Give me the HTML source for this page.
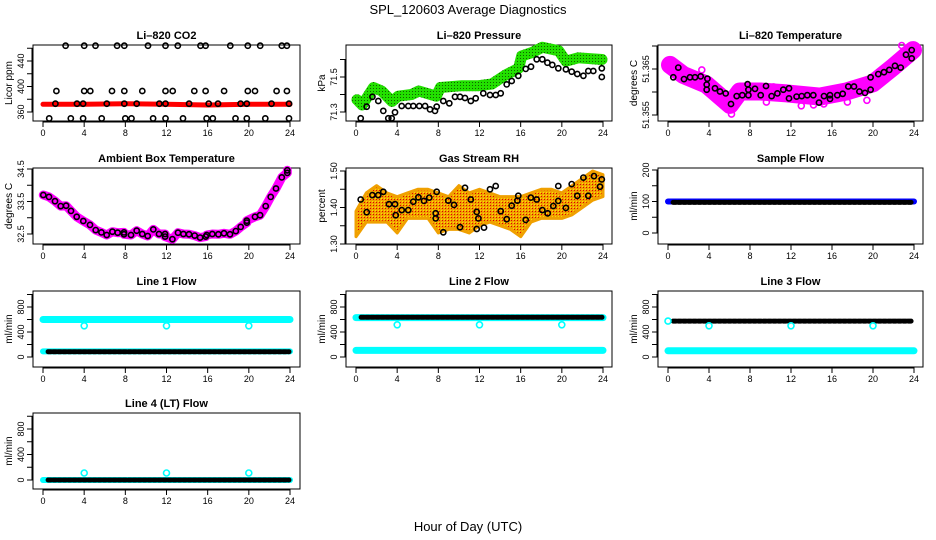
<!DOCTYPE html>
<html><head><meta charset="utf-8">
<style>
html,body{margin:0;padding:0;background:#fff;}
svg{display:block;font-family:"Liberation Sans",Arial,sans-serif;}
</style></head>
<body>
<svg id="chart" width="936" height="540" viewBox="0 0 936 540" xmlns="http://www.w3.org/2000/svg">
<defs>
<pattern id="rhpat" width="3" height="3" patternUnits="userSpaceOnUse">
<rect width="3" height="3" fill="#f0a000"/><rect x="1" y="1" width="1" height="1" fill="#e00000"/><rect x="0" y="0" width="1" height="1" fill="#ffe000"/>
</pattern>
<pattern id="grpat" width="3" height="3" patternUnits="userSpaceOnUse">
<rect width="3" height="3" fill="#22e000"/><rect x="1" y="1" width="1" height="1" fill="#116000"/>
</pattern>
</defs>
<text x="468" y="14" text-anchor="middle" font-size="13">SPL_120603  Average Diagnostics</text>
<text x="468" y="531" text-anchor="middle" font-size="13">Hour of Day (UTC)</text>
</svg>
<script>
// ---- data ----
const xTicks = [0,4,8,12,16,20,24];

const co2Hours = [2.2,4.0,5.1,7.2,7.9,10.2,11.9,13.1,15.3,15.8,18.2,19.9,21.1,23.2,23.7,
  1.3,4.0,4.6,6.7,7.9,9.65,11.9,12.6,14.7,15.8,17.6,19.9,20.6,22.7,23.7,
  0.6,2.7,3.9,5.7,8.0,8.6,10.7,11.9,13.6,15.9,16.5,18.7,19.8,21.6,23.9,
  1.2,3.3,3.9,6.2,7.9,9.1,11.3,11.9,14.2,16.1,17.0,19.2,19.8,22.2,23.9];
const co2Vals = [464,464,464,464,464,464,464,464,464,464,464,464,464,464,464,
  393,393,393,393,393,393,393,393,393,393,393,393,393,393,393,
  350,350,350,350,350,350,350,350,350,350,350,350,350,350,350,
  373,373,373,373,373,373,373,373,373,373,373,373,373,373,373];
const co2BandHours = [0,4,8,12,16,20,24];
const co2BandVals = [372,372,373,372,371,372,372];

const presBandHours = [0.1,0.6,1.7,2.5,3.5,4.1,5.4,6.1,7.8,8.2,10.3,11.9,13.2,14.5,15.8,16.1,17.1,18.1,19.7,20.4,21.6,23.9];
const presBandVals = [71.37,71.34,71.44,71.42,71.36,71.39,71.40,71.42,71.39,71.44,71.45,71.45,71.46,71.51,71.55,71.62,71.64,71.67,71.65,71.59,71.61,71.60];
const presHours = [0.46,1.04,1.59,2.17,2.65,3.14,3.47,3.79,4.44,5.08,5.57,6.15,6.71,7.19,7.68,7.84,8.48,9.07,9.62,10.11,10.59,11.15,11.63,12.37,13.02,13.57,14.06,14.64,15.13,15.77,16.49,17.0,17.56,18.1,18.6,19.07,19.66,20.4,20.96,21.5,22.1,22.57,23.06,23.88,23.88];
const presVals = [71.264,71.33,71.387,71.363,71.306,71.264,71.264,71.298,71.334,71.334,71.334,71.334,71.334,71.315,71.306,71.33,71.363,71.35,71.387,71.387,71.38,71.363,71.378,71.407,71.397,71.397,71.407,71.458,71.477,71.507,71.546,71.559,71.601,71.601,71.582,71.569,71.55,71.544,71.53,71.517,71.507,71.534,71.534,71.55,71.5];

const tempBandHours = [0.2,1.5,3.75,5.1,6.05,7.0,9.0,11.6,14.8,17.4,20.0,22.0,23.9];
const tempBandVals = [51.3659,51.3637,51.3616,51.3590,51.3572,51.3601,51.3601,51.3597,51.3590,51.3601,51.3619,51.3655,51.3691];
const tempHours = [1.0,0.52,1.56,2.15,2.63,3.19,3.84,3.78,3.78,4.59,5.07,5.63,6.15,6.7,7.25,7.77,7.84,7.84,8.49,9.04,9.56,10.11,10.67,11.25,11.8,11.8,12.55,13.04,13.59,14.18,14.73,15.22,15.8,15.8,16.52,17.04,17.59,18.15,18.67,19.22,19.77,19.77,20.52,21.07,21.59,22.15,22.7,23.22,23.78,23.78];
const tempVals = [51.3653,51.3632,51.3628,51.3632,51.3632,51.3634,51.3629,51.3616,51.3605,51.3608,51.3601,51.3597,51.3574,51.3591,51.3593,51.3617,51.3605,51.3593,51.3607,51.3593,51.3613,51.3591,51.3597,51.3605,51.3608,51.3586,51.3590,51.3591,51.3593,51.3593,51.3577,51.3591,51.3593,51.3585,51.3593,51.3596,51.3612,51.3612,51.3601,51.3598,51.3632,51.3605,51.3639,51.3643,51.3648,51.3657,51.3653,51.3681,51.3691,51.3673];
const tempOutHours = [3.3,5.8,6.2,9.6,10.3,13.0,14.2,15.2,17.5,19.4,22.8];
const tempOutVals = [51.3648,51.3562,51.3552,51.3578,51.3611,51.3570,51.3572,51.3574,51.3578,51.3582,51.3701];

const ambHours = [0.03,0.58,1.17,1.72,2.24,2.72,3.27,3.92,4.57,5.12,5.67,6.19,6.74,7.26,7.87,7.87,8.55,9.1,9.65,10.17,10.72,11.27,11.86,11.86,12.57,13.12,13.64,14.19,14.74,15.26,15.81,15.91,16.45,17.04,17.59,18.17,18.73,19.21,19.8,19.8,20.6,21.09,21.64,22.12,22.64,23.2,23.74,23.74];
const ambVals = [33.70,33.64,33.51,33.36,33.37,33.21,33.03,32.90,32.78,32.62,32.55,32.47,32.57,32.54,32.55,32.49,32.47,32.60,32.50,32.44,32.64,32.50,32.50,32.42,32.34,32.54,32.50,32.49,32.45,32.39,32.42,32.47,32.50,32.49,32.52,32.49,32.59,32.72,32.85,32.91,33.03,33.08,33.36,33.64,33.90,34.24,34.38,34.46];

const rhEnvHours = [0,1,2,3,4,5,6,7,8,9,10,11,12,13,14,15,16,17,18,19,20,21,22,23,24];
const rhLow = [1.32,1.36,1.36,1.36,1.33,1.37,1.37,1.37,1.33,1.34,1.34,1.33,1.35,1.36,1.35,1.34,1.32,1.36,1.37,1.37,1.37,1.38,1.40,1.42,1.43];
const rhHigh = [1.39,1.44,1.46,1.44,1.43,1.44,1.45,1.45,1.44,1.43,1.46,1.44,1.45,1.44,1.43,1.43,1.43,1.44,1.45,1.45,1.44,1.46,1.48,1.50,1.49];
const rhHours = [0.46,1.04,1.59,2.17,2.65,3.21,3.79,3.86,4.44,5.08,5.57,6.06,6.61,7.12,7.84,7.74,7.74,8.48,8.97,9.52,10.11,10.59,11.15,11.73,11.73,11.89,12.44,13.02,13.57,14.06,14.64,15.13,15.68,15.77,16.49,16.98,17.56,18.1,18.63,19.17,19.66,19.66,20.4,20.96,21.5,22.1,22.57,23.13,23.71,23.88];
const rhVals = [1.422,1.387,1.434,1.434,1.443,1.409,1.409,1.379,1.393,1.393,1.416,1.428,1.418,1.427,1.443,1.384,1.370,1.332,1.419,1.407,1.346,1.454,1.422,1.388,1.341,1.370,1.345,1.450,1.459,1.390,1.368,1.405,1.419,1.432,1.366,1.427,1.422,1.393,1.384,1.404,1.459,1.418,1.399,1.464,1.432,1.482,1.432,1.486,1.457,1.477];

const flowHours = [0,1,2,3,4,5,6,7,8,9,10,11,12,13,14,15,16,17,18,19,20,21,22,23,24];
const blackHours = [0.5,1.5,2.5,3.5,4.5,5.5,6.5,7.5,8.5,9.5,10.5,11.5,12.5,13.5,14.5,15.5,16.5,17.5,18.5,19.5,20.5,21.5,22.5,23.5,23.9];
const sampleBlue = [100,100,100,100,100,100,100,100,100,100,100,100,100,100,100,100,100,100,100,100,100,100,100,100,100];
const sampleBlack = [97,97,97,97,97,97,97,97,97,97,97,97,97,97,97,97,97,97,97,97,97,97,97,97,97];
const line1CyanHigh = [600,600,600,600,600,600,600,600,600,600,600,600,600,600,600,600,600,600,600,600,600,600,600,600,600];
const line1CyanLow = [90,90,90,90,90,90,90,90,90,90,90,90,90,90,90,90,90,90,90,90,90,90,90,90,90];
const line1Black = [85,85,85,85,85,85,85,85,85,85,85,85,85,85,85,85,85,85,85,85,85,85,85,85,85];
const line2CyanHigh = [630,630,630,630,630,630,630,630,630,630,630,630,630,630,630,630,630,630,630,630,630,630,630,630,630];
const line2CyanLow = [105,105,105,105,105,105,105,105,105,105,105,105,105,105,105,105,105,105,105,105,105,105,105,105,105];
const line2Black = [635,635,635,635,635,635,635,635,635,635,635,635,635,635,635,635,635,635,635,635,635,635,635,635,635];
const line3CyanLow = [100,100,100,100,100,100,100,100,100,100,100,100,100,100,100,100,100,100,100,100,100,100,100,100,100];
const line3Black = [575,575,575,575,575,575,575,575,575,575,575,575,575,575,575,575,575,575,575,575,575,575,575,575,575];
const line4Cyan = [0,0,0,0,0,0,0,0,0,0,0,0,0,0,0,0,0,0,0,0,0,0,0,0,0];
const line4Black = [0,0,0,0,0,0,0,0,0,0,0,0,0,0,0,0,0,0,0,0,0,0,0,0,0];
const outHours = [4,12,20];
const line1Out = [500,500,500];
const line2Out = [515,515,515];
const line3Out = [500,500,500];
const line4Out = [110,110,110];

// ---- layout ----
const NS = 'http://www.w3.org/2000/svg';
const svg = document.getElementById('chart');
const COLS = [{l:33,r:300,x0:43,x24:290},{l:346,r:612,x0:356,x24:603},{l:658,r:923,x0:668,x24:914}];
const ROWS = [{t:45,b:121},{t:168,b:244},{t:291,b:367},{t:413,b:489}];

function el(tag, attrs, parent){
  const e = document.createElementNS(NS, tag);
  for (const k in attrs) e.setAttribute(k, attrs[k]);
  (parent||svg).appendChild(e);
  return e;
}
const ylabFmt = {
  'rh': v => v.toFixed(2),
  'pressure': v => v.toFixed(1),
  'ambient': v => v.toFixed(1),
  'li820-temp': v => v.toFixed(3)
};

function panel(name, col, row, title, ylab, v1, p1, v2, p2, ticks, labels){
  const C = COLS[col], R = ROWS[row];
  const g = el('g', {});
  
  
  const xs = h => C.x0 + h * (C.x24 - C.x0) / 24;
  const ys = v => p1 + (v - v1) * (p2 - p1) / (v2 - v1);
  const t = el('text', {x:(C.l+C.r)/2, y:R.t-6, 'text-anchor':'middle', 'font-size':11, 'font-weight':'bold'}, g);
  t.textContent = title;
  
  
  const yl = el('text', {x:0, y:0, 'text-anchor':'middle', 'font-size':10, transform:`translate(${C.l-21},${(R.t+R.b)/2}) rotate(-90)`}, g);
  yl.textContent = ylab;
  
  
  const xa = el('g', {}, g);
  
  
  el('line', {x1:xs(0), x2:xs(24), y1:R.b+1, y2:R.b+1, stroke:'#000'}, xa);
  xTicks.forEach(h => {
    el('line', {x1:xs(h), x2:xs(h), y1:R.b, y2:R.b+6, stroke:'#000'}, xa);
    const tl = el('text', {x:xs(h), y:R.b+15, 'text-anchor':'middle', 'font-size':9}, xa);
    tl.textContent = h;
    
    
  });
  const ya = el('g', {}, g);
  
  
  el('line', {x1:C.l-1, x2:C.l-1, y1:ys(ticks[0]), y2:ys(ticks[ticks.length-1]), stroke:'#000'}, ya);
  ticks.forEach(v => el('line', {x1:C.l-6, x2:C.l, y1:ys(v), y2:ys(v), stroke:'#000'}, ya));
  labels.forEach(v => {
    const tl = el('text', {x:0, y:0, 'text-anchor':'middle', 'font-size':9, transform:`translate(${C.l-9},${ys(v)}) rotate(-90)`}, ya);
    tl.textContent = ylabFmt[name] ? ylabFmt[name](v) : v;
    
    
  });
  const frame = el('rect', {x:C.l, y:R.t, width:C.r-C.l, height:R.b-R.t, fill:'none', stroke:'#000'}, g);
  
  
  const clipId = 'clip-' + name;
  const cp = el('clipPath', {id:clipId}, g);
  el('rect', {x:C.l, y:R.t-6, width:C.r-C.l, height:R.b-R.t+6}, cp);
  const plot = el('g', {'clip-path':`url(#${clipId})`}, g);
  return {g:plot, xs, ys};
}

function band(P, hours, vals, color, width, name, dash){
  const pts = hours.map((h,i) => P.xs(h).toFixed(1)+','+P.ys(vals[i]).toFixed(1)).join(' ');
  const pl = el('polyline', {points:pts, fill:'none', stroke:color, 'stroke-width':width, 'stroke-linejoin':'round', 'stroke-linecap':'round'}, P.g);
  if (dash) pl.setAttribute('stroke-dasharray', dash);
  
  
}
function points(P, hours, vals, color, name, r){
  const g = el('g', {}, P.g);
  
  
  hours.forEach((h,i) => {
    const c = el('circle', {cx:P.xs(h).toFixed(1), cy:P.ys(vals[i]).toFixed(1), r:r||2.6, fill:'none', stroke:color, 'stroke-width':1.6}, g);
    
    
  });
}

let P = panel('co2', 0, 0, 'Li\u2013820 CO2', 'Licor ppm', 360,112, 440,61, [360,380,400,420,440,460], [360,400,440]);
band(P, co2BandHours, co2BandVals, '#ff0000', 5, 'co2-red-band');
points(P, co2Hours, co2Vals, '#000', 'co2-points');

P = panel('pressure', 1, 0, 'Li\u2013820 Pressure', 'kPa', 71.3,112, 71.5,77, [71.3,71.4,71.5,71.6], [71.3,71.5]);
band(P, presBandHours, presBandVals, 'url(#grpat)', 11, 'pressure-green-band');
points(P, presHours, presVals, '#000', 'pressure-points');

P = panel('li820-temp', 2, 0, 'Li\u2013820 Temperature', 'degrees C', 51.355,115, 51.365,69, [51.355,51.36,51.365,51.37], [51.355,51.365]);
band(P, tempBandHours, tempBandVals, '#ff00ff', 18, 'temp-magenta-band');
points(P, tempOutHours, tempOutVals, '#ff00ff', 'temp-magenta-outliers', 3);
points(P, tempHours, tempVals, '#000', 'temp-points');

P = panel('ambient', 0, 1, 'Ambient Box Temperature', 'degrees C', 32.5,234, 34.5,169, [32.5,33,33.5,34,34.5], [32.5,33.5,34.5]);
band(P, ambHours, ambVals, '#ff00ff', 9, 'ambient-magenta-band');
points(P, ambHours, ambVals, '#000', 'ambient-points');

P = panel('rh', 1, 1, 'Gas Stream RH', 'percent', 1.30,244, 1.50,171, [1.30,1.35,1.40,1.45,1.50], [1.30,1.40,1.50]);
{
  const up = rhEnvHours.map((h,i) => P.xs(h).toFixed(1)+','+P.ys(rhHigh[i]).toFixed(1));
  const dn = rhEnvHours.map((h,i) => P.xs(h).toFixed(1)+','+P.ys(rhLow[i]).toFixed(1)).reverse();
  const poly = el('polygon', {points:up.concat(dn).join(' '), fill:'url(#rhpat)', stroke:'#f0a000', 'stroke-width':3, 'stroke-linejoin':'round'}, P.g);
  
  
}
points(P, rhHours, rhVals, '#000', 'rh-points');

P = panel('sample-flow', 2, 1, 'Sample Flow', 'ml/min', 0,233, 200,170, [0,50,100,150,200], [0,100,200]);
band(P, flowHours, sampleBlue, '#0000ff', 6, 'sample-blue-series');
band(P, blackHours, sampleBlack, '#000', 5, 'sample-black-series', '3 2');

const flowTicks = [0,200,400,600,800,1000];
const flowLabels = [0,400,800];
P = panel('line1-flow', 0, 2, 'Line 1 Flow', 'ml/min', 0,357, 800,307, flowTicks, flowLabels);
band(P, flowHours, line1CyanHigh, '#00ffff', 7, 'line1-cyan-high');
band(P, flowHours, line1CyanLow, '#00ffff', 6, 'line1-cyan-low');
band(P, blackHours, line1Black, '#000', 5, 'line1-black', '3 2');
points(P, outHours, line1Out, '#00ffff', 'line1-outliers', 3);

P = panel('line2-flow', 1, 2, 'Line 2 Flow', 'ml/min', 0,357, 800,307, flowTicks, flowLabels);
band(P, flowHours, line2CyanHigh, '#00ffff', 7, 'line2-cyan-high');
band(P, flowHours, line2CyanLow, '#00ffff', 7, 'line2-cyan-low');
band(P, blackHours, line2Black, '#000', 5, 'line2-black', '3 2');
points(P, outHours, line2Out, '#00ffff', 'line2-outliers', 3);

P = panel('line3-flow', 2, 2, 'Line 3 Flow', 'ml/min', 0,357, 800,307, flowTicks, flowLabels);
band(P, flowHours, line3CyanLow, '#00ffff', 7, 'line3-cyan-low');
band(P, blackHours, line3Black, '#000', 5, 'line3-black', '3 2');
points(P, [0], [575], '#00ffff', 'line3-start-point', 3);
points(P, outHours, line3Out, '#00ffff', 'line3-outliers', 3);

P = panel('line4-flow', 0, 3, 'Line 4 (LT) Flow', 'ml/min', 0,480, 800,429, flowTicks, flowLabels);
band(P, flowHours, line4Cyan, '#00ffff', 6, 'line4-cyan');
band(P, blackHours, line4Black, '#000', 5, 'line4-black', '3 2');
points(P, outHours, line4Out, '#00ffff', 'line4-outliers', 3);
</script>
</body></html>
